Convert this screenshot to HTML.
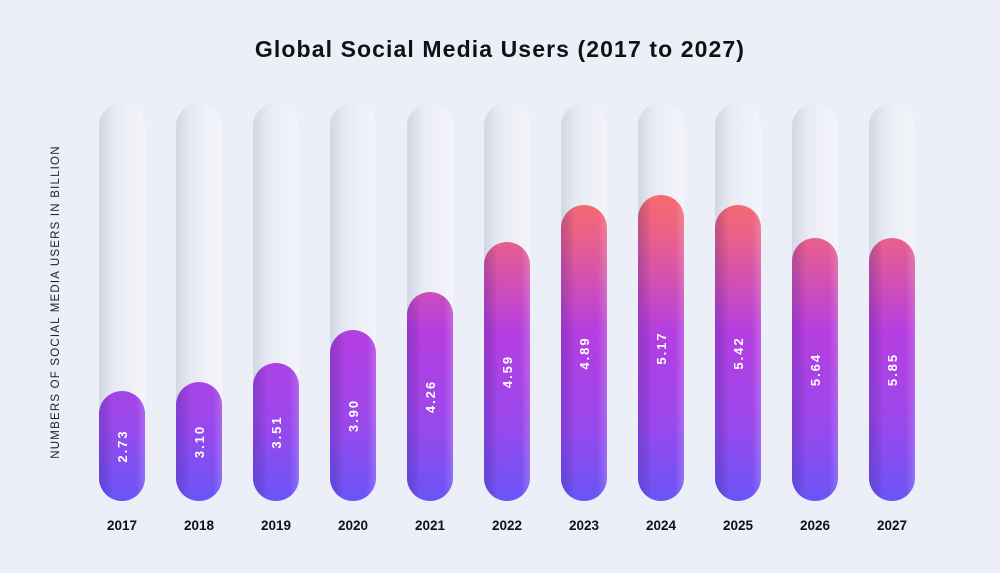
<!DOCTYPE html>
<html><head><meta charset="utf-8"><style>
body{margin:0;width:1000px;height:568px;background:#eceef8;overflow:hidden;font-family:"Liberation Sans",sans-serif}
</style></head><body>
<svg width="1000" height="568" viewBox="0 0 1000 568" xmlns="http://www.w3.org/2000/svg">
<defs>
<linearGradient id="g" gradientUnits="userSpaceOnUse" x1="0" y1="195" x2="0" y2="500">
<stop offset="0" stop-color="#f76c6c"/>
<stop offset="0.15" stop-color="#e85f8e"/>
<stop offset="0.45" stop-color="#b53ee0"/>
<stop offset="0.75" stop-color="#9a48ec"/>
<stop offset="1" stop-color="#6a55f6"/>
</linearGradient>
<linearGradient id="t" x1="0" y1="0" x2="1" y2="0">
<stop offset="0" stop-color="#d3d7e3"/>
<stop offset="0.35" stop-color="#e9ebf4"/>
<stop offset="1" stop-color="#f4f5fb"/>
</linearGradient>
<linearGradient id="sh" x1="0" y1="0" x2="1" y2="0">
<stop offset="0" stop-color="#3020a0" stop-opacity="0.25"/>
<stop offset="0.3" stop-color="#000" stop-opacity="0"/>
<stop offset="0.8" stop-color="#fff" stop-opacity="0"/>
<stop offset="1" stop-color="#fff" stop-opacity="0.18"/>
</linearGradient>
</defs>
<text x="500" y="57" text-anchor="middle" font-size="23" font-weight="bold" fill="#111" letter-spacing="1.1">Global Social Media Users (2017 to 2027)</text>
<text transform="translate(59,302) rotate(-90)" text-anchor="middle" font-size="11.5" fill="#222" letter-spacing="1.2">NUMBERS OF SOCIAL MEDIA USERS IN BILLION</text>
<g id="bars"></g>
</svg>
<script>
var d=[["2017","2.73",391],["2018","3.10",382],["2019","3.51",363],["2020","3.90",330],["2021","4.26",292],["2022","4.59",242],["2023","4.89",205],["2024","5.17",195],["2025","5.42",205],["2026","5.64",238],["2027","5.85",238]];
var s="";
d.forEach(function(b,i){var x=99+i*77,w=46,bot=501;
s+='<rect x="'+x+'" y="103" width="'+w+'" height="'+(bot-103)+'" rx="23" fill="url(#t)"/>';
s+='<rect x="'+x+'" y="'+b[2]+'" width="'+w+'" height="'+(bot-b[2])+'" rx="23" fill="url(#g)"/>';
s+='<rect x="'+x+'" y="'+b[2]+'" width="'+w+'" height="'+(bot-b[2])+'" rx="23" fill="url(#sh)"/>';
var cy=(b[2]+bot)/2,cx=x+w/2;
s+='<text transform="translate('+(cx+5)+','+cy+') rotate(-90)" text-anchor="middle" font-size="13" font-weight="bold" fill="#fff" letter-spacing="2">'+b[1]+'</text>';
s+='<text x="'+cx+'" y="530" text-anchor="middle" font-size="13.5" font-weight="bold" fill="#111">'+b[0]+'</text>';
});
document.getElementById("bars").innerHTML=s;
</script>
</body></html>
